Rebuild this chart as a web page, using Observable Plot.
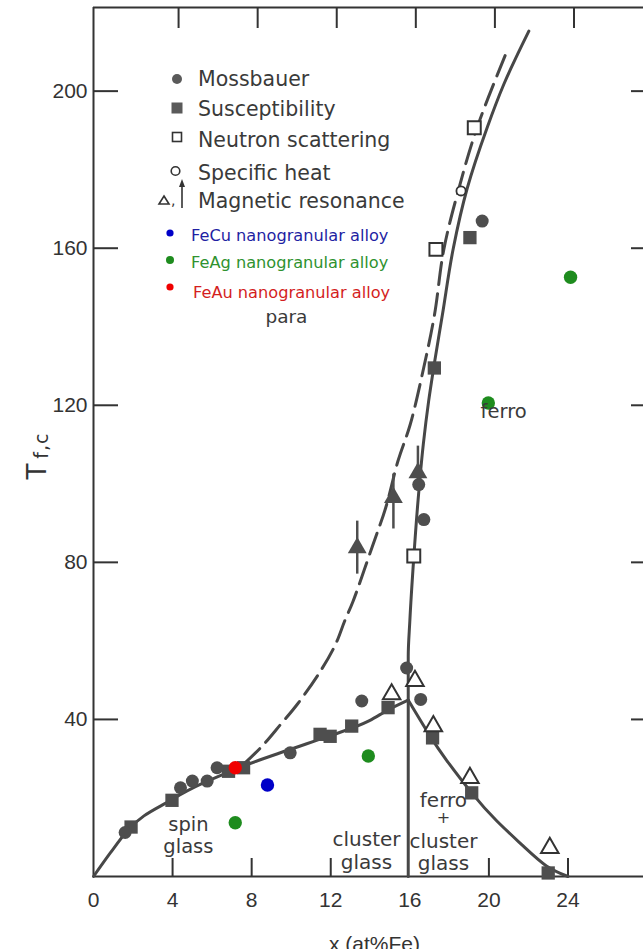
<!DOCTYPE html>
<html><head><meta charset="utf-8">
<script src="https://cdn.jsdelivr.net/npm/d3@7"></script>
<script src="https://cdn.jsdelivr.net/npm/@observablehq/plot@0.6"></script>
<style>
html,body{margin:0;padding:0;background:#fff;}
#wrap{width:643px;height:949px;overflow:hidden;}
</style></head><body><div id="wrap"></div>
<script>
// ---- data (x in at%Fe, T in K) ----
const xTickLabels = [0, 4, 8, 12, 16, 20, 24];
const xTicksBottom = [4, 8, 12, 20, 24];
const xTicksTop = [4, 8, 12, 16, 20, 24];
const yTicks = [40, 80, 120, 160, 200];

const mossbauer = [
  {x:1.6,T:11.2},{x:4.4,T:22.6},{x:5.0,T:24.3},{x:5.75,T:24.3},{x:6.25,T:27.7},
  {x:9.95,T:31.5},{x:13.57,T:44.7},{x:15.84,T:53.1},{x:16.55,T:45.1},
  {x:16.45,T:99.8},{x:16.71,T:90.9},{x:19.66,T:166.9}
];
const susceptibility = [
  {x:1.9,T:12.6},{x:3.97,T:19.4},{x:6.83,T:26.8},{x:7.59,T:27.7},{x:11.46,T:36.2},
  {x:11.97,T:35.7},{x:13.06,T:38.3},{x:14.9,T:43.0},{x:17.15,T:35.3},{x:19.13,T:21.3},
  {x:23.0,T:0.9},{x:17.24,T:129.5},{x:19.04,T:162.7}
];
const neutron = [{x:16.2,T:81.6},{x:17.32,T:159.7},{x:19.26,T:190.7}];
const specificHeat = [{x:18.59,T:174.6}];
const resonance = [{x:15.08,T:46.4},{x:16.26,T:49.8},{x:17.19,T:38.3},{x:19.04,T:25.1},{x:23.08,T:7.3}];
const resonanceArrows = [
  {x:13.34,T:83.7,lo:77.0,hi:90.5},
  {x:15.17,T:96.5,lo:88.5,hi:102.5},
  {x:16.41,T:102.8,lo:100.0,hi:109.6}
];
const feCu = [{x:8.8,T:23.3}];
const feAg = [{x:7.17,T:13.7},{x:13.9,T:30.7},{x:19.97,T:120.6},{x:24.13,T:152.6}];
const feAu = [{x:7.17,T:27.7}];

const glassRise = [
  {x:0,T:0},{x:0.85,T:6},{x:1.7,T:11.6},{x:3.97,T:19.6},{x:7.47,T:27.9},{x:9.97,T:32.4},
  {x:11.94,T:35.8},{x:13.96,T:39.7},{x:14.97,T:42.6},{x:15.92,T:44.9}
];
const glassFall = [
  {x:15.92,T:44.9},{x:16.1,T:43.4},{x:17.02,T:35.8},{x:17.86,T:29.6},{x:19.13,T:21.3},
  {x:20.39,T:14.2},{x:21.73,T:7.8},{x:22.91,T:2.7},{x:24.0,T:0}
];
const ferroBoundary = [
  {x:15.92,T:0},{x:15.92,T:56},{x:16.0,T:65},{x:16.2,T:81.2},{x:16.42,T:96},{x:16.68,T:110},
  {x:16.95,T:121},{x:17.22,T:130},{x:17.65,T:143.1},{x:18.2,T:160},{x:18.9,T:175.2},
  {x:19.91,T:190.7},{x:20.75,T:201.7},{x:22.02,T:215.3}
];
const paraBoundary = [
  {x:7.6,T:28.6},{x:8.53,T:33.2},{x:9.46,T:38.7},{x:10.3,T:43.8},{x:11.48,T:52.3},{x:12.24,T:59.1},
  {x:12.7,T:65},{x:13.13,T:70.1},{x:14.1,T:84},{x:14.78,T:93.9},{x:15.4,T:105.8},{x:16.02,T:115.1},
  {x:16.7,T:129.5},{x:17.25,T:143.1},{x:17.72,T:159.7},{x:18.48,T:175.2},{x:19.4,T:190.7},{x:20.84,T:209.3}
];

const regionLabels = [
  {text:"para", x:9.76, T:141, size:18.5},
  {text:"spin", x:4.8, T:11.6, size:19.5},
  {text:"glass", x:4.8, T:6.0, size:19.5},
  {text:"cluster", x:13.81, T:7.7, size:20},
  {text:"glass", x:13.81, T:1.9, size:20},
  {text:"ferro", x:17.7, T:17.8, size:20},
  {text:"+", x:17.7, T:13.5, size:16},
  {text:"cluster", x:17.7, T:7.3, size:20},
  {text:"glass", x:17.7, T:1.6, size:20}
];
const ferroLabel = [{text:"ferro", x:19.58, T:116.8}];

const grayLegend = ["Mossbauer","Susceptibility","Neutron scattering","Specific heat","Magnetic resonance"];
const alloyLegend = ["FeCu nanogranular alloy","FeAg nanogranular alloy","FeAu nanogranular alloy"];
const alloyTextColors = ["#1f1fa3","#2f922f","#d41e1e"];
const alloyDotColors = ["#0000c8","#1e8c1e","#f00000"];
const xLabel = "x (at%Fe)";

// ---- layout ----
const W = 643, H = 949, mL = 93, mR = 0, mT = 7, mB = 73;
const xMax = 27.82, yMax = 221.3;
const fw = W - mL - mR, fh = H - mT - mB;
const ink = "#3a3a3a", markInk = "#4e4e4e", lineInk = "#474747";

const plot = Plot.plot({
  width: W, height: H,
  marginLeft: mL, marginRight: mR, marginTop: mT, marginBottom: mB,
  x: {domain: [0, xMax]},
  y: {domain: [0, yMax]},
  style: {background: "white"},
  marks: [
    // frame
    Plot.ruleX([0], {stroke: "#333", strokeWidth: 2}),
    Plot.ruleY([0], {stroke: "#333", strokeWidth: 2.2}),
    Plot.ruleY([yMax], {stroke: "#333", strokeWidth: 2}),
    // inward ticks
    Plot.ruleX(xTicksBottom, {insetTop: fh - 18, stroke: "#333", strokeWidth: 2}),
    Plot.ruleX(xTicksTop, {insetBottom: fh - 21, dx: 6, stroke: "#333", strokeWidth: 2}),
    Plot.ruleY(yTicks, {insetRight: fw - 25, stroke: "#333", strokeWidth: 2}),
    Plot.ruleY(yTicks, {insetLeft: fw - 12, stroke: "#333", strokeWidth: 2}),
    // tick labels
    Plot.axisX(xTickLabels, {tickSize: 0, tickPadding: 16, fontSize: 21, fontFamily: "Liberation Sans", fill: "#333", label: null}),
    Plot.axisY(yTicks, {tickSize: 0, tickPadding: 6, fontSize: 21, fontFamily: "Liberation Sans", fill: "#333", label: null}),
    // curves
    Plot.line(glassRise, {x: "x", y: "T", curve: "monotone-x", stroke: lineInk, strokeWidth: 3}),
    Plot.line(glassFall, {x: "x", y: "T", curve: "natural", stroke: lineInk, strokeWidth: 3}),
    Plot.line(ferroBoundary, {x: "x", y: "T", curve: "monotone-y", stroke: lineInk, strokeWidth: 3}),
    Plot.line(paraBoundary, {x: "x", y: "T", curve: "catmull-rom", stroke: lineInk, strokeWidth: 3, strokeDasharray: "22,9"}),
    // resonance arrows
    Plot.ruleX(resonanceArrows, {x: "x", y1: "lo", y2: "hi", stroke: markInk, strokeWidth: 2.5}),
    Plot.dot(resonanceArrows, {x: "x", y: "T", symbol: "triangle", r: 7, fill: markInk}),
    // data markers
    Plot.dot(susceptibility, {x: "x", y: "T", symbol: "square", r: 7.5, fill: markInk}),
    Plot.dot(mossbauer, {x: "x", y: "T", symbol: "circle", r: 6.5, fill: markInk}),
    Plot.dot(neutron, {x: "x", y: "T", symbol: "square", r: 7.3, fill: "white", stroke: "#333", strokeWidth: 2}),
    Plot.dot(specificHeat, {x: "x", y: "T", symbol: "circle", r: 4.6, fill: "white", stroke: "#333", strokeWidth: 1.8}),
    Plot.dot(resonance, {x: "x", y: "T", symbol: "triangle", r: 6.5, fill: "white", stroke: "#333", strokeWidth: 2}),
    // nanogranular alloys
    Plot.dot(feCu, {x: "x", y: "T", r: 6.7, fill: alloyDotColors[0]}),
    Plot.dot(feAg, {x: "x", y: "T", r: 6.7, fill: alloyDotColors[1]}),
    Plot.dot(feAu, {x: "x", y: "T", r: 6.7, fill: alloyDotColors[2]}),
    // region labels
    Plot.text(regionLabels, {x: "x", y: "T", text: "text", textAnchor: "middle", lineAnchor: "bottom",
      fontSize: d => d.size, fontFamily: "DejaVu Sans", fill: ink}),
    Plot.text(ferroLabel, {x: "x", y: "T", text: "text", textAnchor: "start", lineAnchor: "bottom",
      fontSize: 19.5, fontFamily: "DejaVu Sans", fill: ink}),
    // x label
    Plot.text([xLabel], {frameAnchor: "bottom", dx: 6, dy: 74, lineAnchor: "bottom", fontSize: 21, fontFamily: "Liberation Sans", fill: "#333"})
  ]
});
document.getElementById("wrap").appendChild(plot);

const svg = d3.select(plot);

// y label: T with subscript f,c
const yl = svg.append("text")
  .attr("transform", "translate(46,456) rotate(-90)")
  .attr("text-anchor", "middle")
  .attr("font-family", "DejaVu Sans")
  .attr("fill", "#333");
yl.append("tspan").attr("font-size", 26).text("T");
yl.append("tspan").attr("font-size", 19).attr("dx", 5).attr("dy", 2).attr("letter-spacing", 1).text("f,c");

// legend
const leg = svg.append("g").attr("font-family", "DejaVu Sans").attr("text-anchor", "start");
const grayBase = [86, 116, 147, 180, 208];
const symY = [79, 108, 137, 171, 200];
grayLegend.forEach((t, i) => {
  leg.append("text").attr("x", 198).attr("y", grayBase[i]).attr("font-size", 20.5).attr("fill", ink).text(t);
});
leg.append("circle").attr("cx", 177).attr("cy", symY[0]).attr("r", 5).attr("fill", "#5a5a5a");
leg.append("rect").attr("x", 171.5).attr("y", symY[1] - 5.5).attr("width", 11).attr("height", 11).attr("fill", "#5a5a5a");
leg.append("rect").attr("x", 172.5).attr("y", symY[2] - 4.5).attr("width", 9).attr("height", 9).attr("fill", "white").attr("stroke", "#333").attr("stroke-width", 1.6);
leg.append("circle").attr("cx", 175.5).attr("cy", symY[3]).attr("r", 4.3).attr("fill", "white").attr("stroke", "#333").attr("stroke-width", 1.6);
leg.append("path").attr("d", `M164,${symY[4]-4} L169,${symY[4]+4} L159,${symY[4]+4} Z`).attr("fill", "white").attr("stroke", "#333").attr("stroke-width", 1.6);
leg.append("text").attr("x", 171).attr("y", symY[4] + 5).attr("font-size", 14).attr("fill", "#333").text(",");
leg.append("line").attr("x1", 182).attr("x2", 182).attr("y1", 184).attr("y2", 208).attr("stroke", "#333").attr("stroke-width", 1.6);
leg.append("path").attr("d", "M182,179 L185,187 L179,187 Z").attr("fill", "#333");

const alloyBase = [241, 268, 298];
const alloyX = [191, 191, 193];
const alloyDotY = [233, 260, 287];
alloyLegend.forEach((t, i) => {
  leg.append("text").attr("x", alloyX[i]).attr("y", alloyBase[i]).attr("font-size", 16.2).attr("fill", alloyTextColors[i]).text(t);
  leg.append("circle").attr("cx", 170).attr("cy", alloyDotY[i]).attr("r", i === 1 ? 4 : 3.6).attr("fill", alloyDotColors[i]);
});
</script>
</body></html>
